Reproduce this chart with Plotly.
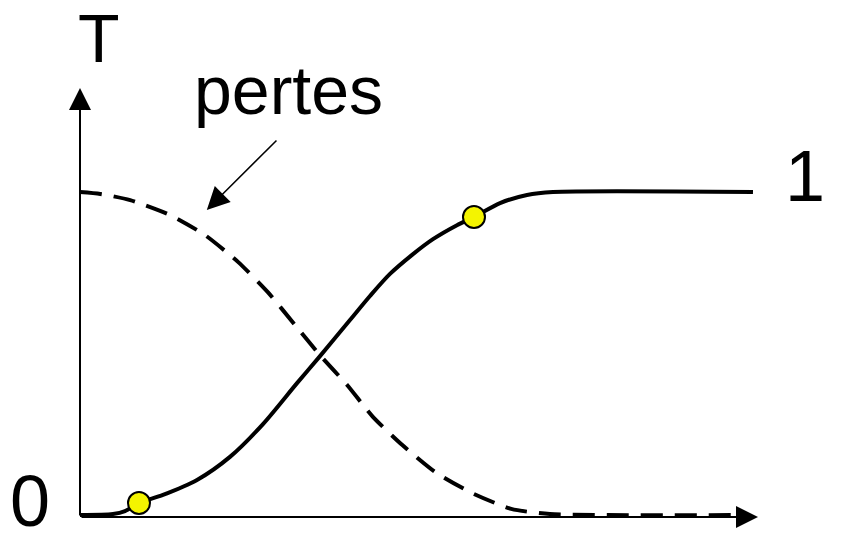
"""Transmission / pertes schematic."""

import plotly.graph_objects as go

# curve T (solid): x in arbitrary units, y normalised 0..1
solid_x = [0.0, 0.487, 0.664, 0.870, 1.224, 1.726, 2.212, 2.699, 3.201, 3.540, 3.982, 4.277,
           4.572, 4.912, 5.206, 5.560, 5.811, 6.195, 6.593, 6.976, 9.926]
solid_y = [0.006, 0.009, 0.018, 0.043, 0.068, 0.114, 0.185, 0.286, 0.412, 0.495, 0.606, 0.680,
           0.748, 0.809, 0.855, 0.898, 0.923, 0.966, 0.991, 1.0, 1.0]

# pertes curve (dashed)
loss_x = [0.0, 0.3, 0.74, 1.33, 1.84, 2.33, 2.77, 3.17, 3.54, 3.94, 4.32, 4.75, 5.24, 5.78, 6.36, 6.93, 9.66]
loss_y = [1.0, 0.994, 0.975, 0.929, 0.868, 0.785, 0.692, 0.591, 0.498, 0.406, 0.308, 0.222, 0.138, 0.074, 0.025, 0.009, 0.006]

# highlighted points on T
point_x = [0.870, 5.811]
point_y = [0.043, 0.923]

# axis extents
x_end = 10.0
y_end = 1.32

FONT = "Liberation Sans, Arial, sans-serif"

# the page body adds an 8px margin, so the figure is 16px smaller than the window
W, H = 828, 525
PX_X, PX_Y = 67.8, 325.0   # pixels per data unit
X0, Y0 = 72, 509           # pixel position of the origin inside the figure

fig = go.Figure()
fig.add_trace(
    go.Scatter(
        x=loss_x, y=loss_y, mode="lines",
        line=dict(color="black", width=4, dash="22px,12px", shape="spline", smoothing=0.6),
        hoverinfo="skip",
    )
)
fig.add_trace(
    go.Scatter(
        x=solid_x, y=solid_y, mode="lines",
        line=dict(color="black", width=4, shape="spline", smoothing=0.8),
        hoverinfo="skip",
    )
)
fig.add_trace(
    go.Scatter(
        x=point_x, y=point_y, mode="markers",
        marker=dict(color="#f4f400", size=22, line=dict(color="black", width=2)),
        hoverinfo="skip",
    )
)

annotations = [
    # axes with arrowheads
    dict(x=x_end, y=0, ax=0, ay=0, axref="x", ayref="y", xref="x", yref="y", text="",
         showarrow=True, arrowhead=2, arrowwidth=2, arrowsize=2.2, arrowcolor="black", standoff=0),
    dict(x=0, y=y_end, ax=0, ay=0, axref="x", ayref="y", xref="x", yref="y", text="",
         showarrow=True, arrowhead=2, arrowwidth=2, arrowsize=2.2, arrowcolor="black", standoff=0),
    # pertes pointer
    dict(x=1.87, y=0.945, ax=2.92, ay=1.163, axref="x", ayref="y", xref="x", yref="y", text="",
         showarrow=True, arrowhead=2, arrowwidth=1.5, arrowsize=3, arrowcolor="black", standoff=0),
    dict(x=0.28, y=1.474, xref="x", yref="y", text="T", showarrow=False, borderpad=0,
         font=dict(size=68, color="black", family=FONT)),
    dict(x=3.07, y=1.315, xref="x", yref="y", text="pertes", showarrow=False, borderpad=0,
         font=dict(size=68, color="black", family=FONT)),
    dict(x=10.69, y=1.05, xref="x", yref="y", text="1", showarrow=False, borderpad=0,
         font=dict(size=72, color="black", family=FONT)),
    dict(x=-0.74, y=0.049, xref="x", yref="y", text="0", showarrow=False, borderpad=0,
         font=dict(size=72, color="black", family=FONT)),
]

fig.update_layout(
    width=W, height=H,
    margin=dict(l=0, r=0, t=0, b=0),
    paper_bgcolor="white", plot_bgcolor="white",
    showlegend=False,
    xaxis=dict(range=[-X0 / PX_X, (W - X0) / PX_X], visible=False, fixedrange=True),
    yaxis=dict(range=[-(H - Y0) / PX_Y, Y0 / PX_Y], visible=False, fixedrange=True),
    annotations=annotations,
)

fig.write_html("out.html")
